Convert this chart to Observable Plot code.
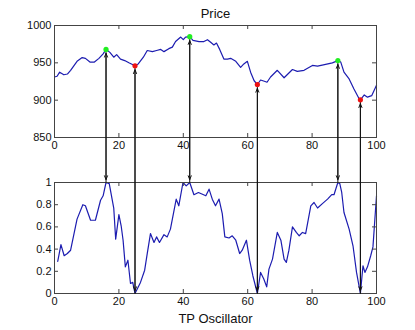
<!DOCTYPE html>
<html><head><meta charset="utf-8">
<script src="https://cdn.jsdelivr.net/npm/d3@7"></script>
<script src="https://cdn.jsdelivr.net/npm/@observablehq/plot@0.6"></script>
<style>
html,body{margin:0;padding:0;background:#fff;}
#wrap{position:relative;width:415px;height:330px;}
#wrap svg{position:absolute;left:0;top:0;}
</style></head><body><div id="wrap"></div>
<script>
// ---- data ----
const priceTitle = "Price";
const oscTitle = "TP Oscillator";
const priceX = [0,0.8,1.6,2.9,4,5,7,8.6,9.6,11,12.4,13.8,15.1,16,17.2,18.4,19.3,20.5,21.8,23.1,25,26,27.6,28.8,30.4,31.7,33,34,35.5,36.6,37.6,39.2,40,40.7,42,43,44.9,46.4,47.5,48.5,49.5,50.3,51.3,52.6,53.7,54.7,56.3,57.8,58.8,59.9,60.9,62,63,64,65.4,66,67.1,69.2,71.3,73.9,75.4,77.5,80.1,81.7,84.2,86.3,88,88.9,89.9,91.5,93,94.6,95,96.2,97.2,98.5,100];
const priceY = [931,932,937.5,934,935,940,952,957,956,951,951,956,962,968,964,957.5,961,955,953,950,946,948.5,957.5,966.5,965,966.5,968,965,969,971,978.5,984.5,981,984.5,985,980,978.5,978.5,981,977.5,974,976.5,968,955,955,956,952,944,948.5,952,937.5,926,921,927,925,924,931,940,930,941,938.5,940,946.5,945.5,948,950,953,951,937.5,928.5,915,902,900.5,907,904,906,920];
const oscX = [1,2,3,4,5,7,8.8,9.6,11.2,12.7,14.3,15.1,16,17,18.4,19,20,20.7,21.3,22,22.8,23.6,24.3,25,26.7,28,28.8,29.8,30.9,31.7,32.6,34,35,36,37.8,38.6,39.9,40.9,42,43.3,44.7,47,48,49,50,51.1,52.1,52.9,54.2,55.2,56.3,57.5,58.3,59.6,60.6,61.6,63,64,65,65.9,66.6,67.7,69.2,70.3,71.3,72,72.8,73.9,75.1,76,77,78,79.6,80.6,81.7,83.2,84.8,86.1,86.8,88,88.6,89.2,89.9,91.5,92.7,93.8,95,95.8,96.4,97.2,98.2,98.9,100];
const oscY = [0.29,0.44,0.34,0.36,0.39,0.67,0.80,0.79,0.66,0.66,0.84,0.88,1.0,0.99,0.77,0.49,0.71,0.61,0.48,0.24,0.30,0.09,0.10,0.0,0.10,0.21,0.36,0.54,0.46,0.51,0.46,0.53,0.51,0.58,0.85,0.79,1.0,0.97,1.0,0.89,0.91,0.88,0.94,0.85,0.79,0.85,0.72,0.51,0.50,0.52,0.48,0.36,0.39,0.48,0.30,0.16,0.0,0.19,0.13,0.06,0.22,0.31,0.55,0.48,0.31,0.28,0.39,0.60,0.55,0.52,0.55,0.54,0.79,0.82,0.77,0.81,0.85,0.89,0.89,1.0,0.99,0.91,0.73,0.58,0.43,0.19,0.0,0.25,0.19,0.24,0.34,0.42,0.88];
const peakX = [16, 42, 88];
const peakPrice = [968, 985, 953];
const peakOsc = [1, 1, 1];
const troughX = [25, 63, 95];
const troughPrice = [946, 921, 900.5];
const troughOsc = [0, 0, 0];
const xTicks = [0, 20, 40, 60, 80, 100];
const priceTicks = [850, 900, 950, 1000];
const oscTicks = [0, 0.2, 0.4, 0.6, 0.8, 1];

// ---- layout / style ----
const W = 415, H = 330, ML = 54, MR = 39;
const FONT = "'Liberation Sans', Arial, Helvetica, sans-serif";
const lineColor = "#1c1cb0";
const axisColor = "#444";
const arrowColor = "#111";
const TL = 4; // inward tick length
const innerW = W - ML - MR;
const fmt = d => String(d);

const price = priceX.map((x, i) => ({x, y: priceY[i]}));
const osc = oscX.map((x, i) => ({x, y: oscY[i]}));
const peaks = peakX.map((x, i) => ({x, p: peakPrice[i], o: peakOsc[i]}));
const troughs = troughX.map((x, i) => ({x, p: troughPrice[i], o: troughOsc[i]}));
const extremes = peaks.concat(troughs);

const plotStyle = {background: "transparent", overflow: "visible", fontFamily: FONT, fontSize: "11px", color: "#111"};

function boxMarks(yTicks, innerH) {
  return [
    Plot.frame({stroke: axisColor}),
    Plot.tickX(xTicks, {x: d => d, insetTop: innerH - TL, stroke: axisColor}),
    Plot.tickX(xTicks, {x: d => d, insetBottom: innerH - TL, stroke: axisColor}),
    Plot.tickY(yTicks, {y: d => d, insetRight: innerW - TL, stroke: axisColor}),
    Plot.tickY(yTicks, {y: d => d, insetLeft: innerW - TL, stroke: axisColor}),
    Plot.axisX({ticks: xTicks, tickSize: 0, tickPadding: 4, tickFormat: fmt, label: null}),
    Plot.axisY({ticks: yTicks, tickSize: 0, tickPadding: 3, tickFormat: fmt, label: null})
  ];
}

const bTop = 182, bBottom = 37;
const oscPlot = Plot.plot({
  width: W, height: H, marginTop: bTop, marginBottom: bBottom, marginLeft: ML, marginRight: MR,
  style: plotStyle,
  x: {domain: [0, 100]},
  y: {domain: [0, 1]},
  marks: [
    Plot.line(osc, {x: "x", y: "y", stroke: lineColor, strokeWidth: 1.2}),
    ...boxMarks(oscTicks, H - bTop - bBottom),
    Plot.text([oscTitle], {text: d => d, frameAnchor: "bottom", dy: 29, lineAnchor: "bottom", fontSize: 13})
  ]
});

const tTop = 25, tBottom = 193;
const yB = oscPlot.scale("y");
const yT = Plot.scale({y: {domain: [850, 1000], range: [H - tBottom, tTop]}});
const oscInPrice = d => yT.invert(yB.apply(d.o));

const pricePlot = Plot.plot({
  width: W, height: H, marginTop: tTop, marginBottom: tBottom, marginLeft: ML, marginRight: MR,
  style: plotStyle,
  x: {domain: [0, 100]},
  y: {domain: [850, 1000]},
  marks: [
    Plot.line(price, {x: "x", y: "y", stroke: lineColor, strokeWidth: 1.2}),
    ...boxMarks(priceTicks, H - tTop - tBottom),
    Plot.arrow(extremes, {x: "x", y1: oscInPrice, y2: "p", insetEnd: 4, headLength: 6, headAngle: 45, stroke: arrowColor, strokeWidth: 1}),
    Plot.arrow(extremes, {x: "x", y1: "p", y2: oscInPrice, insetEnd: 3, headLength: 6, headAngle: 45, stroke: arrowColor, strokeWidth: 1}),
    Plot.dot(peaks, {x: "x", y: "p", r: 2.6, fill: "#22ee22", stroke: "none"}),
    Plot.dot(troughs, {x: "x", y: "p", r: 2.6, fill: "#ee1111", stroke: "none"}),
    Plot.text([priceTitle], {text: d => d, frameAnchor: "top", dy: -8, lineAnchor: "bottom", fontSize: 13})
  ]
});

const wrap = document.getElementById("wrap");
wrap.appendChild(oscPlot);
wrap.appendChild(pricePlot);
</script></body></html>
